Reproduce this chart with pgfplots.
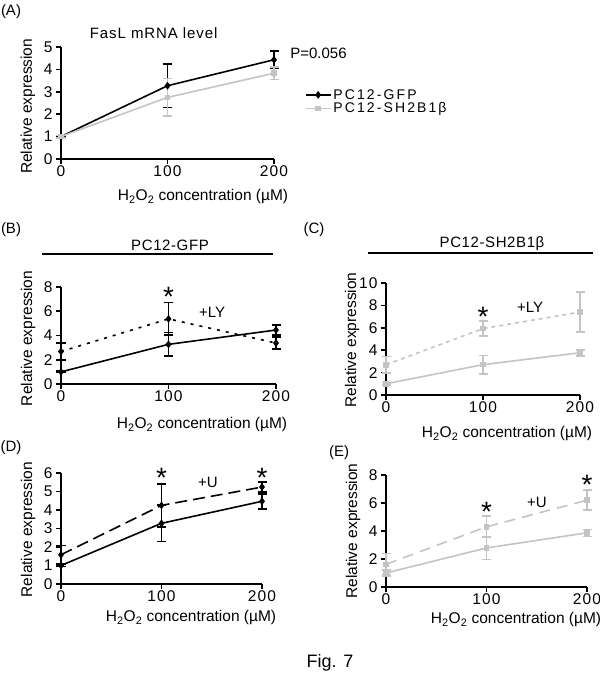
\documentclass[border=0pt]{standalone}
\usepackage{pgfplots}
\pgfplotsset{compat=1.18}
\usepackage{fontspec}
\setmainfont{Liberation Sans}
\definecolor{lgray}{RGB}{196,196,196}
\newcommand{\f}{\fontsize{15bp}{17bp}\selectfont}
\newcommand{\ft}{\fontsize{15.5bp}{17bp}\selectfont\addfontfeature{LetterSpace=7}}
\newcommand{\fl}{\fontsize{15.5bp}{17bp}\selectfont}
\newcommand{\fg}{\fontsize{14bp}{16bp}\selectfont\addfontfeature{LetterSpace=15}}
\newcommand{\starfont}{\fontsize{28bp}{28bp}\selectfont}
\pgfplotsset{
  panel/.style={
    scale only axis, axis lines=left,
    axis line style={-, line width=1.8bp},
    every tick/.style={black, line width=1.6bp},
    major tick length=5bp, tick align=outside,
    xmin=0, xmax=200, xtick={0,100,200}, ymin=0, clip=false,
    tick label style={font=\ft},
    xticklabel style={yshift=1.5bp},
    label style={font=\fl},
    /pgf/number format/assume math mode=true,
    xlabel={H\textsubscript{2}O\textsubscript{2} concentration (µM)},
    ylabel={Relative expression},
  },
  blk/.style={black, line width=1.6bp, mark=diamond*, mark size=2.6bp, mark options={solid, black},
     error bars/y dir=both, error bars/y explicit,
     error bars/error bar style={solid, line width=1.6bp},
     error bars/error mark options={solid, rotate=90, mark size=4.5bp, line width=1.6bp}},
  gry/.style={lgray, line width=1.6bp, mark=square*, mark size=2bp, mark options={solid, lgray},
     error bars/y dir=both, error bars/y explicit,
     error bars/error bar style={solid, line width=1.6bp},
     error bars/error mark options={solid, rotate=90, mark size=4.5bp, line width=1.6bp}},
}
\begin{document}
\begin{tikzpicture}
\useasboundingbox (0,0) rectangle (600bp,677bp);
% ---------------- (A)
\begin{axis}[panel, at={(61bp,518bp)}, anchor=south west, width=213bp, height=112bp,
  ymax=5, ytick={0,1,2,3,4,5},
  xlabel style={at={(axis description cs:0.667,-0.339)}, anchor=center},
  ylabel style={at={(axis description cs:-0.155,0.47)}, anchor=center},
  legend style={at={(axis description cs:1.13,0.66)}, anchor=north west, draw=none, fill=none,
    font=\fg, row sep=-2bp, cells={anchor=west}},
  legend image code/.code={\draw[mark repeat=2,mark phase=2,#1] plot coordinates {(0bp,0bp) (12.5bp,0bp) (25bp,0bp)};}]
\addplot[blk] coordinates {(0,1) +- (0,0) (100,3.27) +- (0,0.98) (200,4.43) +- (0,0.39)};
\addlegendentry{PC12-GFP}
\addplot[gry] coordinates {(0,1) +- (0,0.05) (100,2.75) +- (0,0.84) (200,3.83) +- (0,0.28)};
\addlegendentry{PC12-SH2B1β}
\node[font=\f\addfontfeature{LetterSpace=6}] at (axis cs:87,5.63) {FasL mRNA level};
\node[font=\f, anchor=west] at (axis cs:212,4.73) {P=0.056};
\end{axis}
% ---------------- (B)
\begin{axis}[panel, at={(61bp,293bp)}, anchor=south west, width=215bp, height=97bp,
  ymax=8, ytick={0,2,4,6,8},
  xlabel style={at={(axis description cs:0.656,-0.42)}, anchor=center},
  ylabel style={at={(axis description cs:-0.153,0.47)}, anchor=center}]
\addplot[blk] coordinates {(0,1) +- (0,0.05) (100,3.27) +- (0,0.97) (200,4.45) +- (0,0.41)};
\addplot[blk, dash pattern=on 3bp off 6bp] coordinates {(0,2.68) +- (0,0.7) (100,5.37) +- (0,1.35) (200,3.38) +- (0,0.48)};
\node[font=\starfont, anchor=north, inner sep=0pt] at (axis cs:100,7.97) {*};
\node[font=\f] at (axis cs:140.5,5.94) {+LY};
\end{axis}
% ---------------- (C)
\begin{axis}[panel, at={(386bp,282bp)}, anchor=south west, width=194bp, height=112bp,
  ymax=10, ytick={0,2,4,6,8,10},
  xlabel style={at={(axis description cs:0.624,-0.348)}, anchor=center},
  ylabel style={at={(axis description cs:-0.175,0.49)}, anchor=center}]
\addplot[gry] coordinates {(0,1) +- (0,0.1) (100,2.71) +- (0,0.83) (200,3.77) +- (0,0.27)};
\addplot[gry, dash pattern=on 4bp off 4bp] coordinates {(0,2.7) +- (0,0.72) (100,5.93) +- (0,0.66) (200,7.4) +- (0,1.8)};
\node[font=\starfont, anchor=north, inner sep=0pt] at (axis cs:100,7.86) {*};
\node[font=\f] at (axis cs:148.5,7.86) {+LY};
\end{axis}
% ---------------- (D)
\begin{axis}[panel, at={(61bp,93bp)}, anchor=south west, width=201bp, height=111bp,
  ymax=6, ytick={0,1,2,3,4,5,6},
  xlabel style={at={(axis description cs:0.647,-0.305)}, anchor=center},
  ylabel style={at={(axis description cs:-0.164,0.49)}, anchor=center}]
\addplot[blk] coordinates {(0,1) +- (0,0.05) (100,3.28) +- (0,0.98) (200,4.47) +- (0,0.4)};
\addplot[blk, dash pattern=on 12bp off 6bp] coordinates {(0,1.58) +- (0,0.5) (100,4.25) +- (0,1.17) (200,5.24) +- (0,0.28)};
\node[font=\starfont, anchor=north, inner sep=0pt] at (axis cs:100,6.27) {*};
\node[font=\starfont, anchor=north, inner sep=0pt] at (axis cs:200,6.27) {*};
\node[font=\f] at (axis cs:146.3,5.51) {+U};
\end{axis}
% ---------------- (E)
\begin{axis}[panel, at={(386bp,90bp)}, anchor=south west, width=201bp, height=112bp,
  ymax=8, ytick={0,2,4,6,8},
  xlabel style={at={(axis description cs:0.647,-0.29)}, anchor=center},
  ylabel style={at={(axis description cs:-0.164,0.5)}, anchor=center}]
\addplot[gry] coordinates {(0,1) +- (0,0.2) (100,2.79) +- (0,0.83) (200,3.87) +- (0,0.25)};
\addplot[gry, dash pattern=on 11bp off 7bp] coordinates {(0,1.62) +- (0,0.76) (100,4.3) +- (0,0.77) (200,6.2) +- (0,0.72)};
\node[font=\starfont, anchor=north, inner sep=0pt] at (axis cs:100,6.09) {*};
\node[font=\starfont, anchor=north, inner sep=0pt] at (axis cs:200,8.0) {*};
\node[font=\f] at (axis cs:150.2,6.07) {+U};
\end{axis}
% ---------------- panel letters and group titles
\node[font=\f] at (11bp,665bp) {(A)};
\node[font=\f] at (11bp,447bp) {(B)};
\node[font=\f] at (314bp,447bp) {(C)};
\node[font=\f] at (11bp,229bp) {(D)};
\node[font=\f] at (339bp,224bp) {(E)};
\node[font=\f\addfontfeature{LetterSpace=4}] at (170bp,432bp) {PC12-GFP};
\draw[line width=1.4bp] (42bp,423bp) -- (273bp,423bp);
\node[font=\f\addfontfeature{LetterSpace=4}] at (492bp,433bp) {PC12-SH2B1β};
\draw[line width=1.4bp] (368bp,424bp) -- (593bp,424bp);
\node[font=\fontsize{18bp}{20bp}\selectfont] at (330bp,14bp) {Fig. 7};
\end{tikzpicture}
\end{document}
